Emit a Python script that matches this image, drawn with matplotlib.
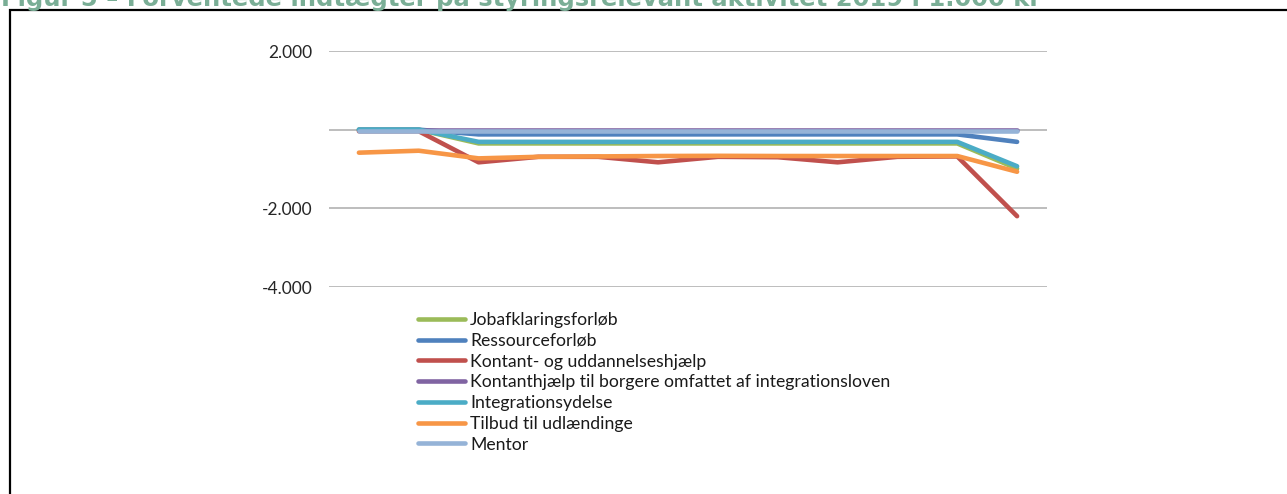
import matplotlib
matplotlib.use("Agg")
import matplotlib.pyplot as plt
from matplotlib.patches import Rectangle
from matplotlib.ticker import FuncFormatter

# ---- data (1.000 kr), 12 monthly points ----
months = list(range(1, 13))
series_names = [
    "Jobafklaringsforløb",
    "Ressourceforløb",
    "Kontant- og uddannelseshjælp",
    "Kontanthjælp til borgere omfattet af integrationsloven",
    "Integrationsydelse",
    "Tilbud til udlændinge",
    "Mentor",
]
jobafklaring = [0, 0, -350, -350, -350, -350, -350, -350, -350, -350, -350, -990]
ressource = [0, 0, -120, -120, -120, -120, -120, -120, -120, -120, -120, -310]
kontant = [-40, -40, -830, -690, -690, -830, -690, -700, -830, -690, -680, -2200]
kontant_integr = [0, 0, 0, 0, 0, 0, 0, 0, 0, 0, 0, 0]
integrationsydelse = [0, 0, -310, -310, -310, -310, -310, -310, -310, -310, -310, -930]
tilbud = [-585, -535, -730, -690, -680, -670, -665, -670, -670, -670, -670, -1070]
mentor = [-30, -30, -30, -30, -30, -30, -30, -30, -30, -30, -30, -30]
series_values = [jobafklaring, ressource, kontant, kontant_integr,
                 integrationsydelse, tilbud, mentor]
series_colors = ["#9BBB59", "#4F81BD", "#C0504D", "#8064A2",
                 "#4BACC6", "#F79646", "#95B3D7"]
yticks = [-4000, -2000, 0, 2000]
title = "Figur 5 – Forventede indtægter på styringsrelevant aktivitet 2019 i 1.000 kr"

W, H = 1287, 494
fig = plt.figure(figsize=(W / 100, H / 100), dpi=100)
fig.patch.set_facecolor("white")

# chart frame (left and top edges visible)
fig.add_artist(Rectangle((9.5 / W, -0.2), 2.0, 1 - 10.5 / H + 0.2,
                         transform=fig.transFigure, fill=False,
                         lw=1.6, ec="black", clip_on=False))

# title, partially cut by the top edge (as in the reference)
t = fig.text(1 / W, 1 - 6 / H, title, color="#7AAE96", fontweight="bold",
             family="DejaVu Sans", fontsize=14, ha="left", va="baseline")
fig.canvas.draw()
wpx = t.get_window_extent().width
t.set_fontsize(14 * 1047 / wpx)

ax_l, ax_r = 329 / W, 1047 / W
ax_t, ax_b = 1 - 51 / H, 1 - 287 / H
ax = fig.add_axes([ax_l, ax_b, ax_r - ax_l, ax_t - ax_b])
ax.set_xlim(0.5, 12.5)
ax.set_ylim(-4000, 2000)
ax.set_yticks(yticks)


def fmt(v, pos):
    if v == 0:
        return ""
    s = f"{abs(int(v)):,}".replace(",", ".")
    return ("-" if v < 0 else "") + s


ax.yaxis.set_major_formatter(FuncFormatter(fmt))
ax.set_xticks([])
ax.tick_params(axis="y", length=0, pad=12, labelsize=12.5, labelcolor="#262626")
for lab in ax.get_yticklabels():
    lab.set_family("Lato")
for s in ax.spines.values():
    s.set_visible(False)
ax.grid(axis="y", color="#ABABAB", lw=1.1)
ax.set_axisbelow(True)

lines = []
for name, vals, col in zip(series_names, series_values, series_colors):
    ln, = ax.plot(months, vals, color=col, lw=3.3, solid_capstyle="round",
                  solid_joinstyle="round", label=name)
    lines.append(ln)

leg = fig.legend(handles=lines, loc="upper left",
                 bbox_to_anchor=(418 / W, 1 - 312 / H),
                 frameon=False, borderpad=0, borderaxespad=0,
                 handlelength=2.67, handletextpad=0.28, labelspacing=0.27,
                 prop={"family": "Lato", "size": 12.7})
for txt in leg.get_texts():
    txt.set_color("#1a1a1a")

fig.savefig("out.png", dpi=100)
